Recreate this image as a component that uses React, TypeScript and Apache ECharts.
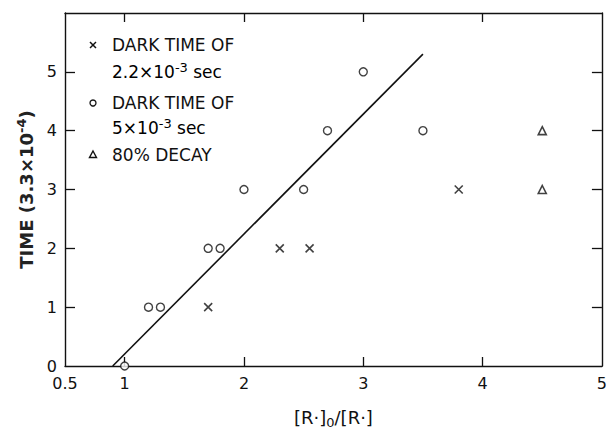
import React, { useEffect, useRef } from 'react';
import * as echarts from 'echarts';

// Data
const crossData: number[][] = [[1.7, 1], [2.3, 2], [2.55, 2], [3.8, 3]];
const circleData: number[][] = [[1.0, 0], [1.2, 1], [1.3, 1], [1.7, 2], [1.8, 2], [2.0, 3], [2.5, 3], [2.7, 4], [3.0, 5], [3.5, 4]];
const triangleData: number[][] = [[4.5, 3], [4.5, 4]];
const fitLine: number[][] = [[0.9, 0], [3.5, 5.3]];
const xLabelValues = [0.5, 1, 2, 3, 4, 5];
const xTickValues = [1, 2, 3, 4];
const yLabelValues = [0, 1, 2, 3, 4, 5];
const yTickValues = [1, 2, 3, 4, 5];

const FONT = 'DejaVu Sans';
const CROSS = 'path://M0,0L10,10M10,0L0,10';

export default function App() {
  const ref = useRef<HTMLDivElement>(null);
  useEffect(() => {
    if (!ref.current) return;
    const chart = echarts.init(ref.current, undefined, { renderer: 'svg' });
    const axisLine = { show: true, onZero: false, lineStyle: { color: '#111', width: 1.4 } };
    const base = { type: 'value' as const, min: 0.5, max: 5, splitLine: { show: false } };
    const ybase = { type: 'value' as const, min: 0, max: 6, splitLine: { show: false } };
    const legendText = { fontFamily: FONT, fontSize: 17, fill: '#111' };
    const rich = {
      a: { fontFamily: FONT, fontSize: 17, color: '#111', lineHeight: 22 },
      sup: { fontFamily: FONT, fontSize: 13, color: '#111', verticalAlign: 'top', lineHeight: 22, padding: [0, 0, 9, 0] },
    };
    const tickStyle = { color: '#111', width: 1.3 };
    const option: any = {
      animation: false,
      grid: { left: 65, right: 5, top: 13, bottom: 62 },
      xAxis: [
        {
          ...base,
          position: 'bottom',
          axisLine,
          axisTick: { show: true, inside: true, length: 9, customValues: xTickValues, lineStyle: tickStyle },
          axisLabel: { customValues: xLabelValues, margin: 9, fontFamily: FONT, fontSize: 16, color: '#111', formatter: (v: number) => String(v) },
          name: '{a|[R·]}{s|0}{a|/[R·]}',
          nameLocation: 'middle',
          nameGap: 40,
          nameTextStyle: {
            rich: {
              a: { fontFamily: FONT, fontSize: 18, color: '#111' },
              s: { fontFamily: FONT, fontSize: 13, color: '#111', padding: [10, 0, 0, 0] },
            },
          },
        },
        {
          ...base,
          position: 'top',
          axisLine,
          axisTick: { show: true, inside: true, length: 9, customValues: xTickValues, lineStyle: tickStyle },
          axisLabel: { show: false },
        },
      ],
      yAxis: [
        {
          ...ybase,
          position: 'left',
          axisLine,
          axisTick: { show: true, inside: true, length: 10, customValues: yTickValues, lineStyle: tickStyle },
          axisLabel: { customValues: yLabelValues, margin: 8, fontFamily: FONT, fontSize: 16, color: '#111' },
          name: '{a|TIME (3.3×10}{s|-4}{a|)}',
          nameLocation: 'middle',
          nameRotate: 90,
          nameGap: 27,
          nameTextStyle: {
            rich: {
              a: { fontFamily: FONT, fontSize: 18, fontWeight: 'bold', color: '#222' },
              s: { fontFamily: FONT, fontSize: 13, fontWeight: 'bold', color: '#222', padding: [0, 0, 10, 0] },
            },
          },
        },
        {
          ...ybase,
          position: 'right',
          axisLine,
          axisTick: { show: true, inside: true, length: 10, customValues: yTickValues, lineStyle: tickStyle },
          axisLabel: { show: false },
        },
      ],
      series: [
        {
          type: 'line',
          data: fitLine,
          showSymbol: false,
          symbol: 'none',
          lineStyle: { color: '#111', width: 1.6 },
          z: 2,
        },
        {
          type: 'scatter',
          data: crossData,
          symbol: CROSS,
          symbolSize: 8,
          itemStyle: { color: 'none', borderColor: '#111', borderWidth: 1.6 },
          z: 3,
        },
        {
          type: 'scatter',
          data: circleData,
          symbol: 'circle',
          symbolSize: 8,
          itemStyle: { color: '#fff', borderColor: '#111', borderWidth: 1.4 },
          z: 3,
        },
        {
          type: 'scatter',
          data: triangleData,
          symbol: 'triangle',
          symbolSize: 8,
          itemStyle: { color: '#fff', borderColor: '#111', borderWidth: 1.6 },
          z: 3,
        },
      ],
      graphic: [
        // legend markers
        { type: 'line', shape: { x1: 90, y1: 42, x2: 96, y2: 48 }, style: { stroke: '#111', lineWidth: 1.5 } },
        { type: 'line', shape: { x1: 96, y1: 42, x2: 90, y2: 48 }, style: { stroke: '#111', lineWidth: 1.5 } },
        { type: 'circle', shape: { cx: 93, cy: 103, r: 3 }, style: { fill: '#fff', stroke: '#111', lineWidth: 1.3 } },
        { type: 'polygon', shape: { points: [[93, 151], [96.5, 157.5], [89.5, 157.5]] }, style: { fill: '#fff', stroke: '#111', lineWidth: 1.4 } },
        // legend texts
        { type: 'text', x: 112, y: 45, style: { ...legendText, text: 'DARK TIME OF', verticalAlign: 'middle' } },
        { type: 'text', x: 112, y: 72, style: { text: '{a|2.2×10}{sup|-3}{a| sec}', rich, verticalAlign: 'middle' } },
        { type: 'text', x: 112, y: 103, style: { ...legendText, text: 'DARK TIME OF', verticalAlign: 'middle' } },
        { type: 'text', x: 112, y: 128, style: { text: '{a|5×10}{sup|-3}{a| sec}', rich, verticalAlign: 'middle' } },
        { type: 'text', x: 112, y: 155, style: { ...legendText, text: '80% DECAY', verticalAlign: 'middle' } },
      ],
    };
    chart.setOption(option);
    return () => chart.dispose();
  }, []);
  return (
    <div
      ref={ref}
      style={{ position: 'absolute', left: 0, top: 0, width: 610, height: 434, background: '#fff' }}
    />
  );
}
